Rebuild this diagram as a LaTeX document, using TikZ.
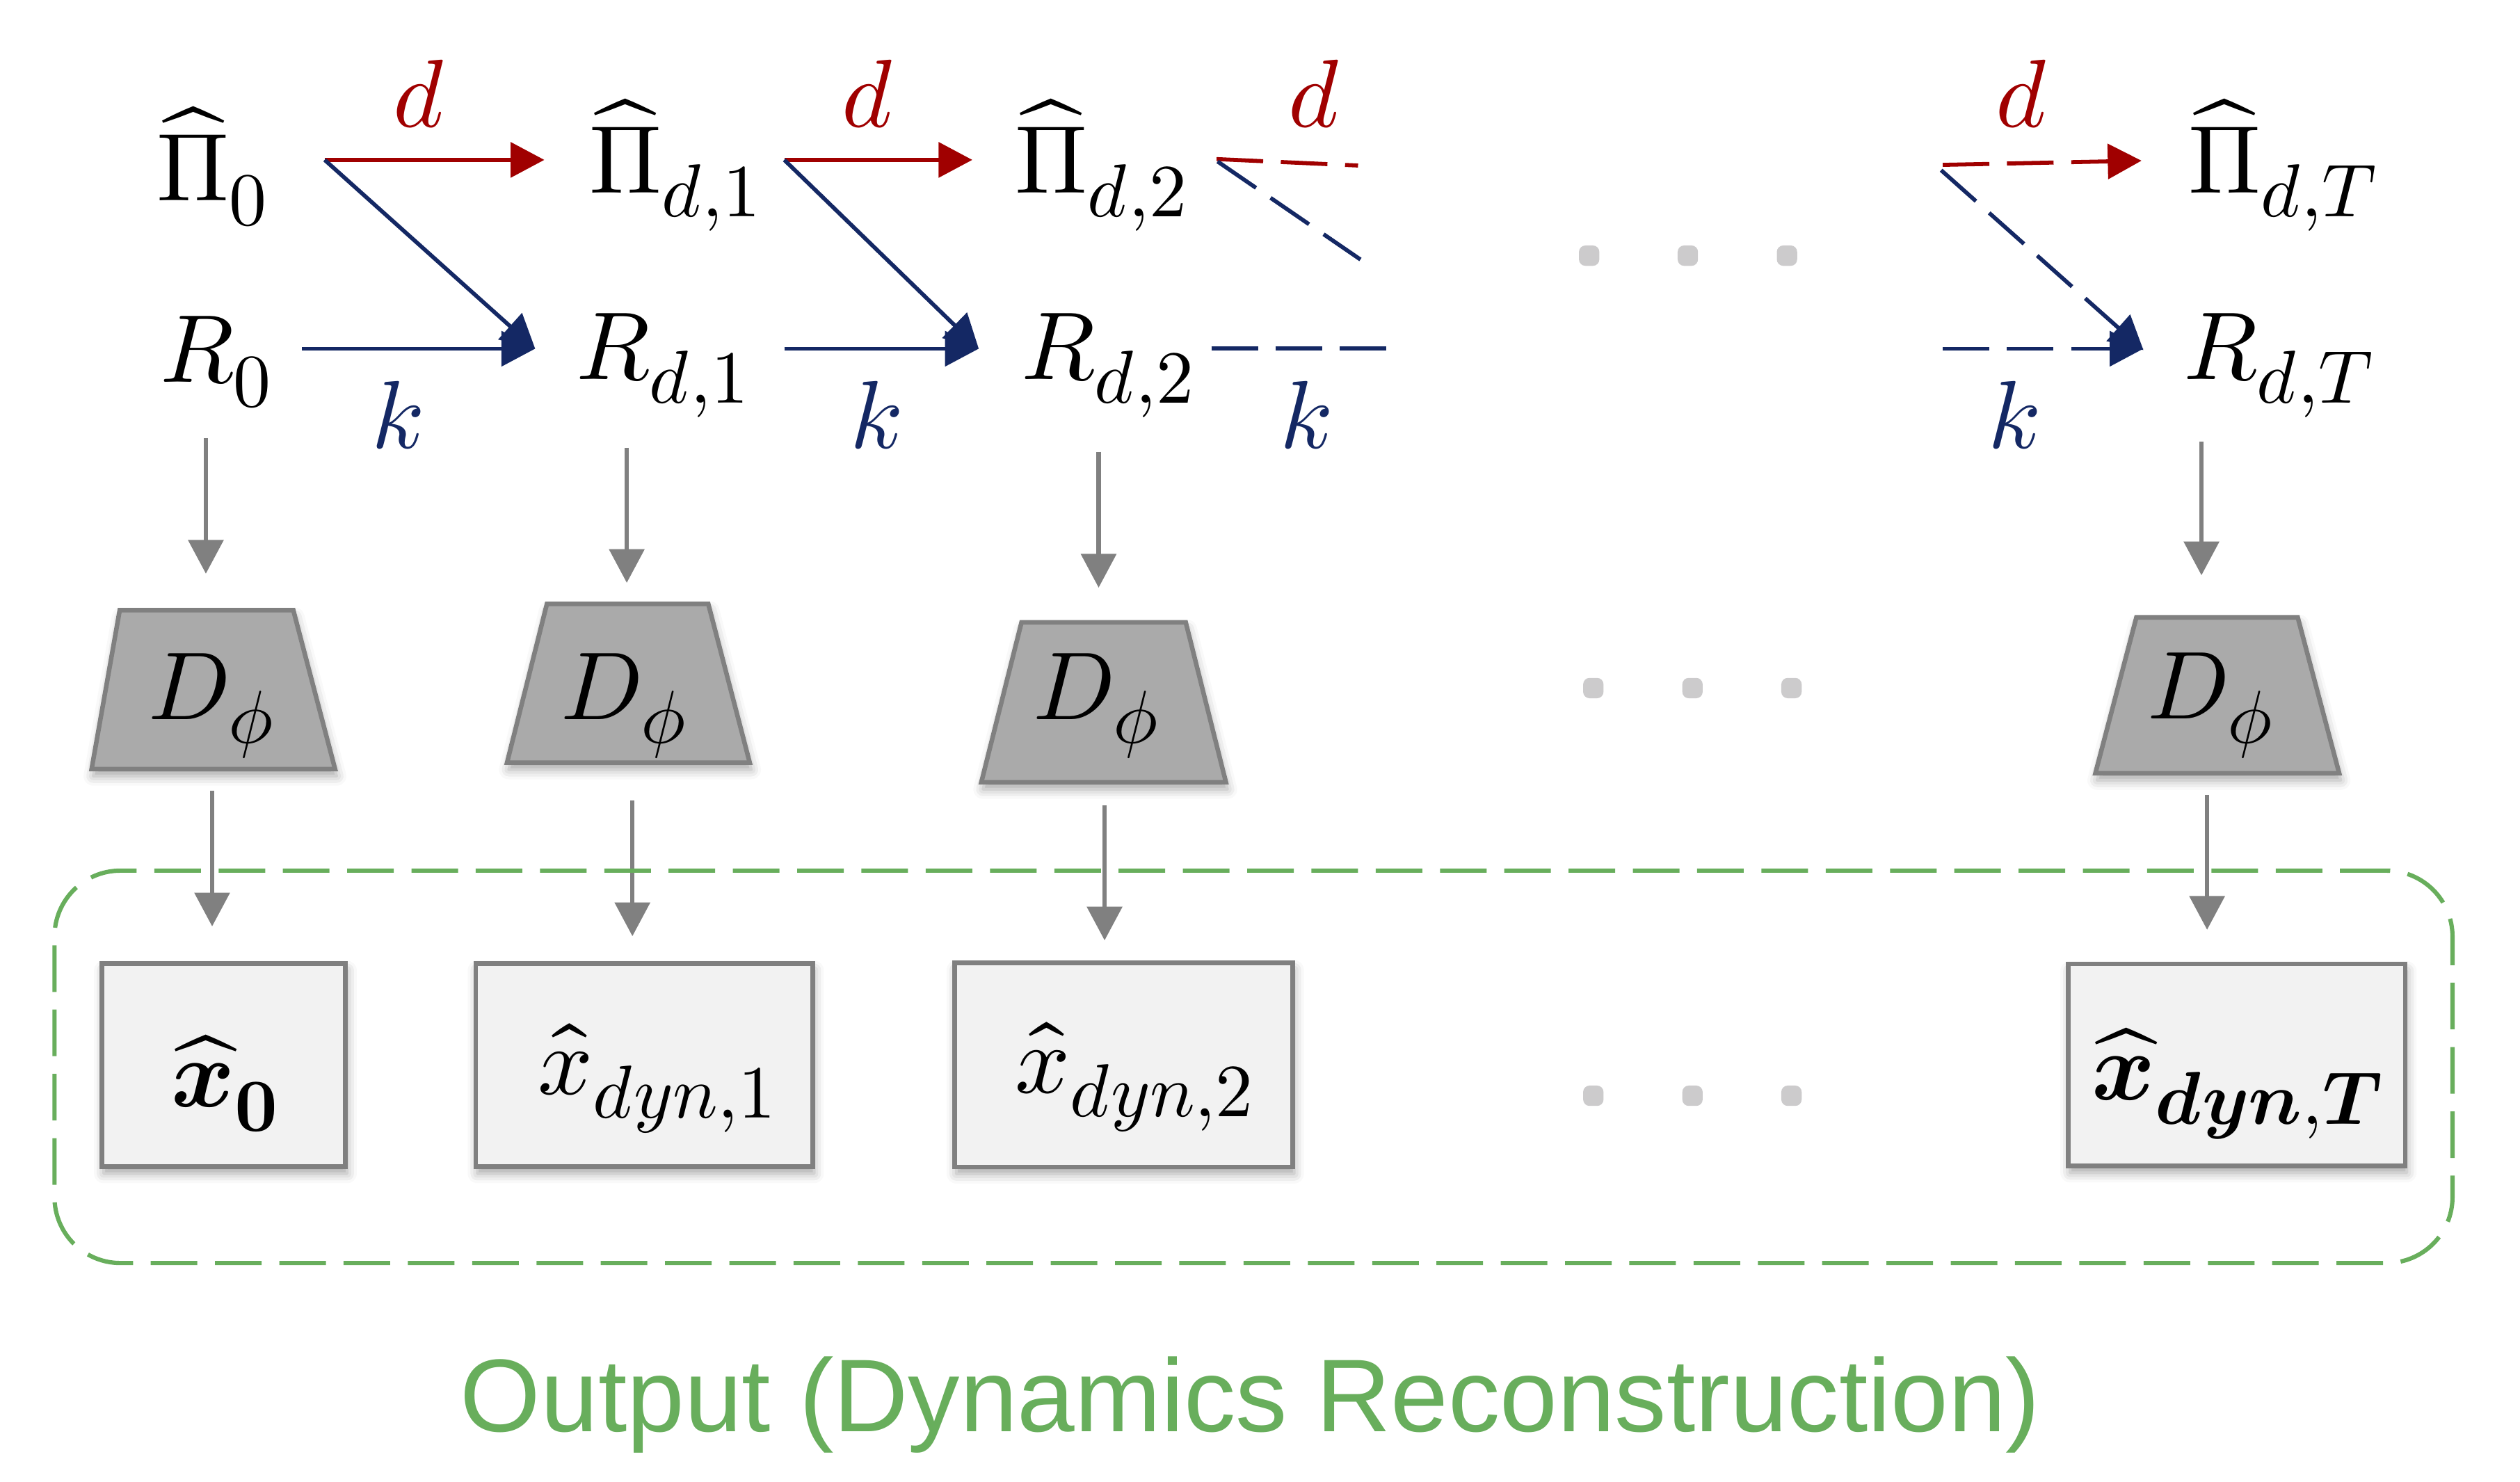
\documentclass[tikz,border=0pt]{standalone}
\usepackage{fontspec}
\usepackage{unicode-math}
\setmathfont{Latin Modern Math}
\newfontfamily\titlefont{Liberation Sans}
\usetikzlibrary{arrows.meta,shadows.blur}
\newcommand\sbx[1]{_{\mbox{\fontsize{14}{14}\selectfont$#1$}}}
\definecolor{dred}{RGB}{160,0,0}
\definecolor{dblue}{RGB}{20,40,100}
\definecolor{agray}{RGB}{128,128,128}
\definecolor{dfill}{RGB}{170,170,170}
\definecolor{bfill}{RGB}{242,242,242}
\definecolor{ogreen}{RGB}{104,174,92}
\definecolor{dotgray}{RGB}{204,203,204}
\tikzset{
  mt/.style={inner sep=0pt, font=\fontsize{18}{20}\selectfont},
  tip/.style={-{Triangle[length=6.3pt,width=6.5pt]}},
  redarr/.style={draw=dred, line width=0.75pt, tip},
  bluearr/.style={draw=dblue, line width=0.75pt, tip},
  redln/.style={draw=dred, line width=0.75pt},
  blueln/.style={draw=dblue, line width=0.75pt},
  dsh/.style={dash pattern=on 8.7pt off 3.3pt},
  garr/.style={draw=agray, line width=0.8pt, tip},
  softshadow/.style={blur shadow={shadow xshift=0.3pt, shadow yshift=-1.3pt, shadow blur radius=1.8pt, shadow opacity=35}},
  dshape/.style={fill=dfill, draw=agray, line width=0.85pt, line join=miter, softshadow},
  outbox/.style={rectangle, fill=bfill, draw=agray, line width=0.87pt, inner sep=0pt, softshadow},
  dotsq/.style={rectangle, fill=dotgray, draw=none, minimum size=3.8pt, inner sep=0pt, rounded corners=1.2pt},
  gbox/.style={rectangle, draw=ogreen, line width=0.8pt, dash pattern=on 8.7pt off 3.3pt, rounded corners=12.3pt, inner sep=0pt}
}
\begin{document}
\begin{tikzpicture}[x=0.3pt,y=-0.3pt]
\useasboundingbox (0,0) rectangle (1568,922);

% ---- top row texts
\node[mt, anchor=base west] (P0) at (97,125) {$\widehat{\Pi}\sbx{0}$};
\node[mt, anchor=base west] (P1) at (366,120) {$\widehat{\Pi}\sbx{d{,}1}$};
\node[mt, anchor=base west] (P2) at (631,120) {$\widehat{\Pi}\sbx{d{,}2}$};
\node[mt, anchor=base west] (PT) at (1361,120) {$\widehat{\Pi}\sbx{d{,}T}$};
\node[mt, anchor=base west] (R0) at (99,238) {$R\sbx{0}$};
\node[mt, anchor=base west] (R1) at (358,236) {$R\sbx{d{,}1}$};
\node[mt, anchor=base west] (R2) at (635,236) {$R\sbx{d{,}2}$};
\node[mt, anchor=base west] (RT) at (1358,236) {$R\sbx{d{,}T}$};

% ---- labels
\node[mt, anchor=base, text=dred] (d1) at (261,79) {$d$};
\node[mt, anchor=base, text=dred] (d2) at (540,79) {$d$};
\node[mt, anchor=base, text=dred] (d3) at (818,79) {$d$};
\node[mt, anchor=base, text=dred] (d4) at (1258,79) {$d$};
\node[mt, anchor=base, text=dblue] (k1) at (247.6,279) {$k$};
\node[mt, anchor=base, text=dblue] (k2) at (545,279) {$k$};
\node[mt, anchor=base, text=dblue] (k3) at (812.6,279) {$k$};
\node[mt, anchor=base, text=dblue] (k4) at (1253,279) {$k$};

% ---- connector end points
\coordinate (a1s) at (202,99.5);   \coordinate (a1e) at (338.7,99.5);
\coordinate (a1b) at (333,217);    \coordinate (a1k) at (188,217);
\coordinate (a2s) at (488,99.5);   \coordinate (a2e) at (605,99.5);
\coordinate (a2b) at (609,217);    \coordinate (a2k) at (488,217);
\coordinate (a3s) at (757,99);     \coordinate (a3e) at (845,103);
\coordinate (a3d) at (757.6,100.5);\coordinate (a3f) at (846.5,161.5);
\coordinate (a3k) at (753.7,216.7);\coordinate (a3g) at (862.5,216.7);
\coordinate (a4s) at (1208.8,102.6);\coordinate (a4e) at (1332.5,100);
\coordinate (a4d) at (1207.8,105.9);\coordinate (a4b) at (1333.7,217.9);
\coordinate (a4k) at (1208.8,217); \coordinate (a4h) at (1333.7,217);

\draw[redarr] (a1s) -- (a1e);
\draw[bluearr] (a1s) -- (a1b);
\draw[bluearr] (a1k) -- (a1b);
\draw[redarr] (a2s) -- (a2e);
\draw[bluearr] (a2s) -- (a2b);
\draw[bluearr] (a2k) -- (a2b);
\draw[redln, dsh] (a3s) -- (a3e);
\draw[blueln, dsh] (a3d) -- (a3f);
\draw[blueln, dsh] (a3k) -- (a3g);
\draw[redarr, dsh] (a4s) -- (a4e);
\draw[bluearr, dsh] (a4d) -- (a4b);
\draw[bluearr, dsh] (a4k) -- (a4h);

% ---- dots
\node[dotsq] (s1) at (988.8,159.1) {};
\node[dotsq] (s2) at (1050.2,159.1) {};
\node[dotsq] (s3) at (1111.9,159.1) {};
\node[dotsq] (s4) at (991.4,428.2) {};
\node[dotsq] (s5) at (1053.1,428.2) {};
\node[dotsq] (s6) at (1114.7,428.2) {};
\node[dotsq] (s7) at (991.4,681.9) {};
\node[dotsq] (s8) at (1053.1,681.9) {};
\node[dotsq] (s9) at (1114.7,681.9) {};

% ---- decoders
\path[dshape] (74.5,379.7) -- (182.5,379.7) -- (208.5,478.6) -- (57,478.6) -- cycle;
\path[dshape] (340.3,375.8) -- (440.7,375.8) -- (466.5,474.6) -- (315.5,474.6) -- cycle;
\path[dshape] (635.6,387.3) -- (737.8,387.3) -- (762.8,486.8) -- (610.6,486.8) -- cycle;
\path[dshape] (1329.3,384.2) -- (1429.7,384.2) -- (1455.5,481.2) -- (1303.8,481.2) -- cycle;
\node[mt, anchor=base] (D1) at (132,447.6) {$D\sbx{\phi}$};
\node[mt, anchor=base] (D2) at (388.8,447.6) {$D\sbx{\phi}$};
\node[mt, anchor=base] (D3) at (682.6,447.6) {$D\sbx{\phi}$};
\node[mt, anchor=base] (D4) at (1375.9,447.4) {$D\sbx{\phi}$};

% ---- gray arrows
\coordinate (g1s) at (128.1,272.7); \coordinate (g1e) at (128.1,357);
\coordinate (g2s) at (390,278.7);   \coordinate (g2e) at (390,362.7);
\coordinate (g3s) at (683.6,281.2); \coordinate (g3e) at (683.6,365.7);
\coordinate (g4s) at (1369.8,275);  \coordinate (g4e) at (1369.8,358);
\coordinate (h1s) at (132,492);     \coordinate (h1e) at (132,576.5);
\coordinate (h2s) at (393.5,498);   \coordinate (h2e) at (393.5,582.6);
\coordinate (h3s) at (687.3,501.2); \coordinate (h3e) at (687.3,585.2);
\coordinate (h4s) at (1373.3,494.6);\coordinate (h4e) at (1373.3,578.6);
\foreach \n in {g1,g2,g3,g4,h1,h2,h3,h4} \draw[garr] (\n s) -- (\n e);

% ---- output boxes
\node[outbox, minimum width=45.45pt, minimum height=37.95pt] (B0) at (139.25,662.75) {};
\node[outbox, minimum width=62.88pt, minimum height=37.95pt] (B1) at (400.8,662.75) {};
\node[outbox, minimum width=63.09pt, minimum height=38.1pt] (B2) at (699.15,662.7) {};
\node[outbox, minimum width=62.88pt, minimum height=37.71pt] (BT) at (1391.8,662.65) {};
\node[mt, anchor=base] (X0) at (140.6,688.9) {$\widehat{\symbfit{x}}\sbx{\symbf{0}}$};
\node[mt, anchor=base] (X1) at (409.6,681) {$\widehat{x}\sbx{dyn{,}1}$};
\node[mt, anchor=base] (X2) at (706.6,680) {$\widehat{x}\sbx{dyn{,}2}$};
\node[mt, anchor=base] (XT) at (1393,684.6) {$\widehat{\symbfit{x}}\sbx{\symbfit{dyn}{,}\symbfit{T}}$};

% ---- output frame and title
\node[gbox, minimum width=447.63pt, minimum height=73.26pt] (OUT) at (779.95,663.9) {};
\node[anchor=base, inner sep=0pt, text=ogreen, font=\titlefont\fontsize{19.3}{22}\selectfont] (TT) at (778,891) {Output (Dynamics Reconstruction)};
\end{tikzpicture}
\end{document}
